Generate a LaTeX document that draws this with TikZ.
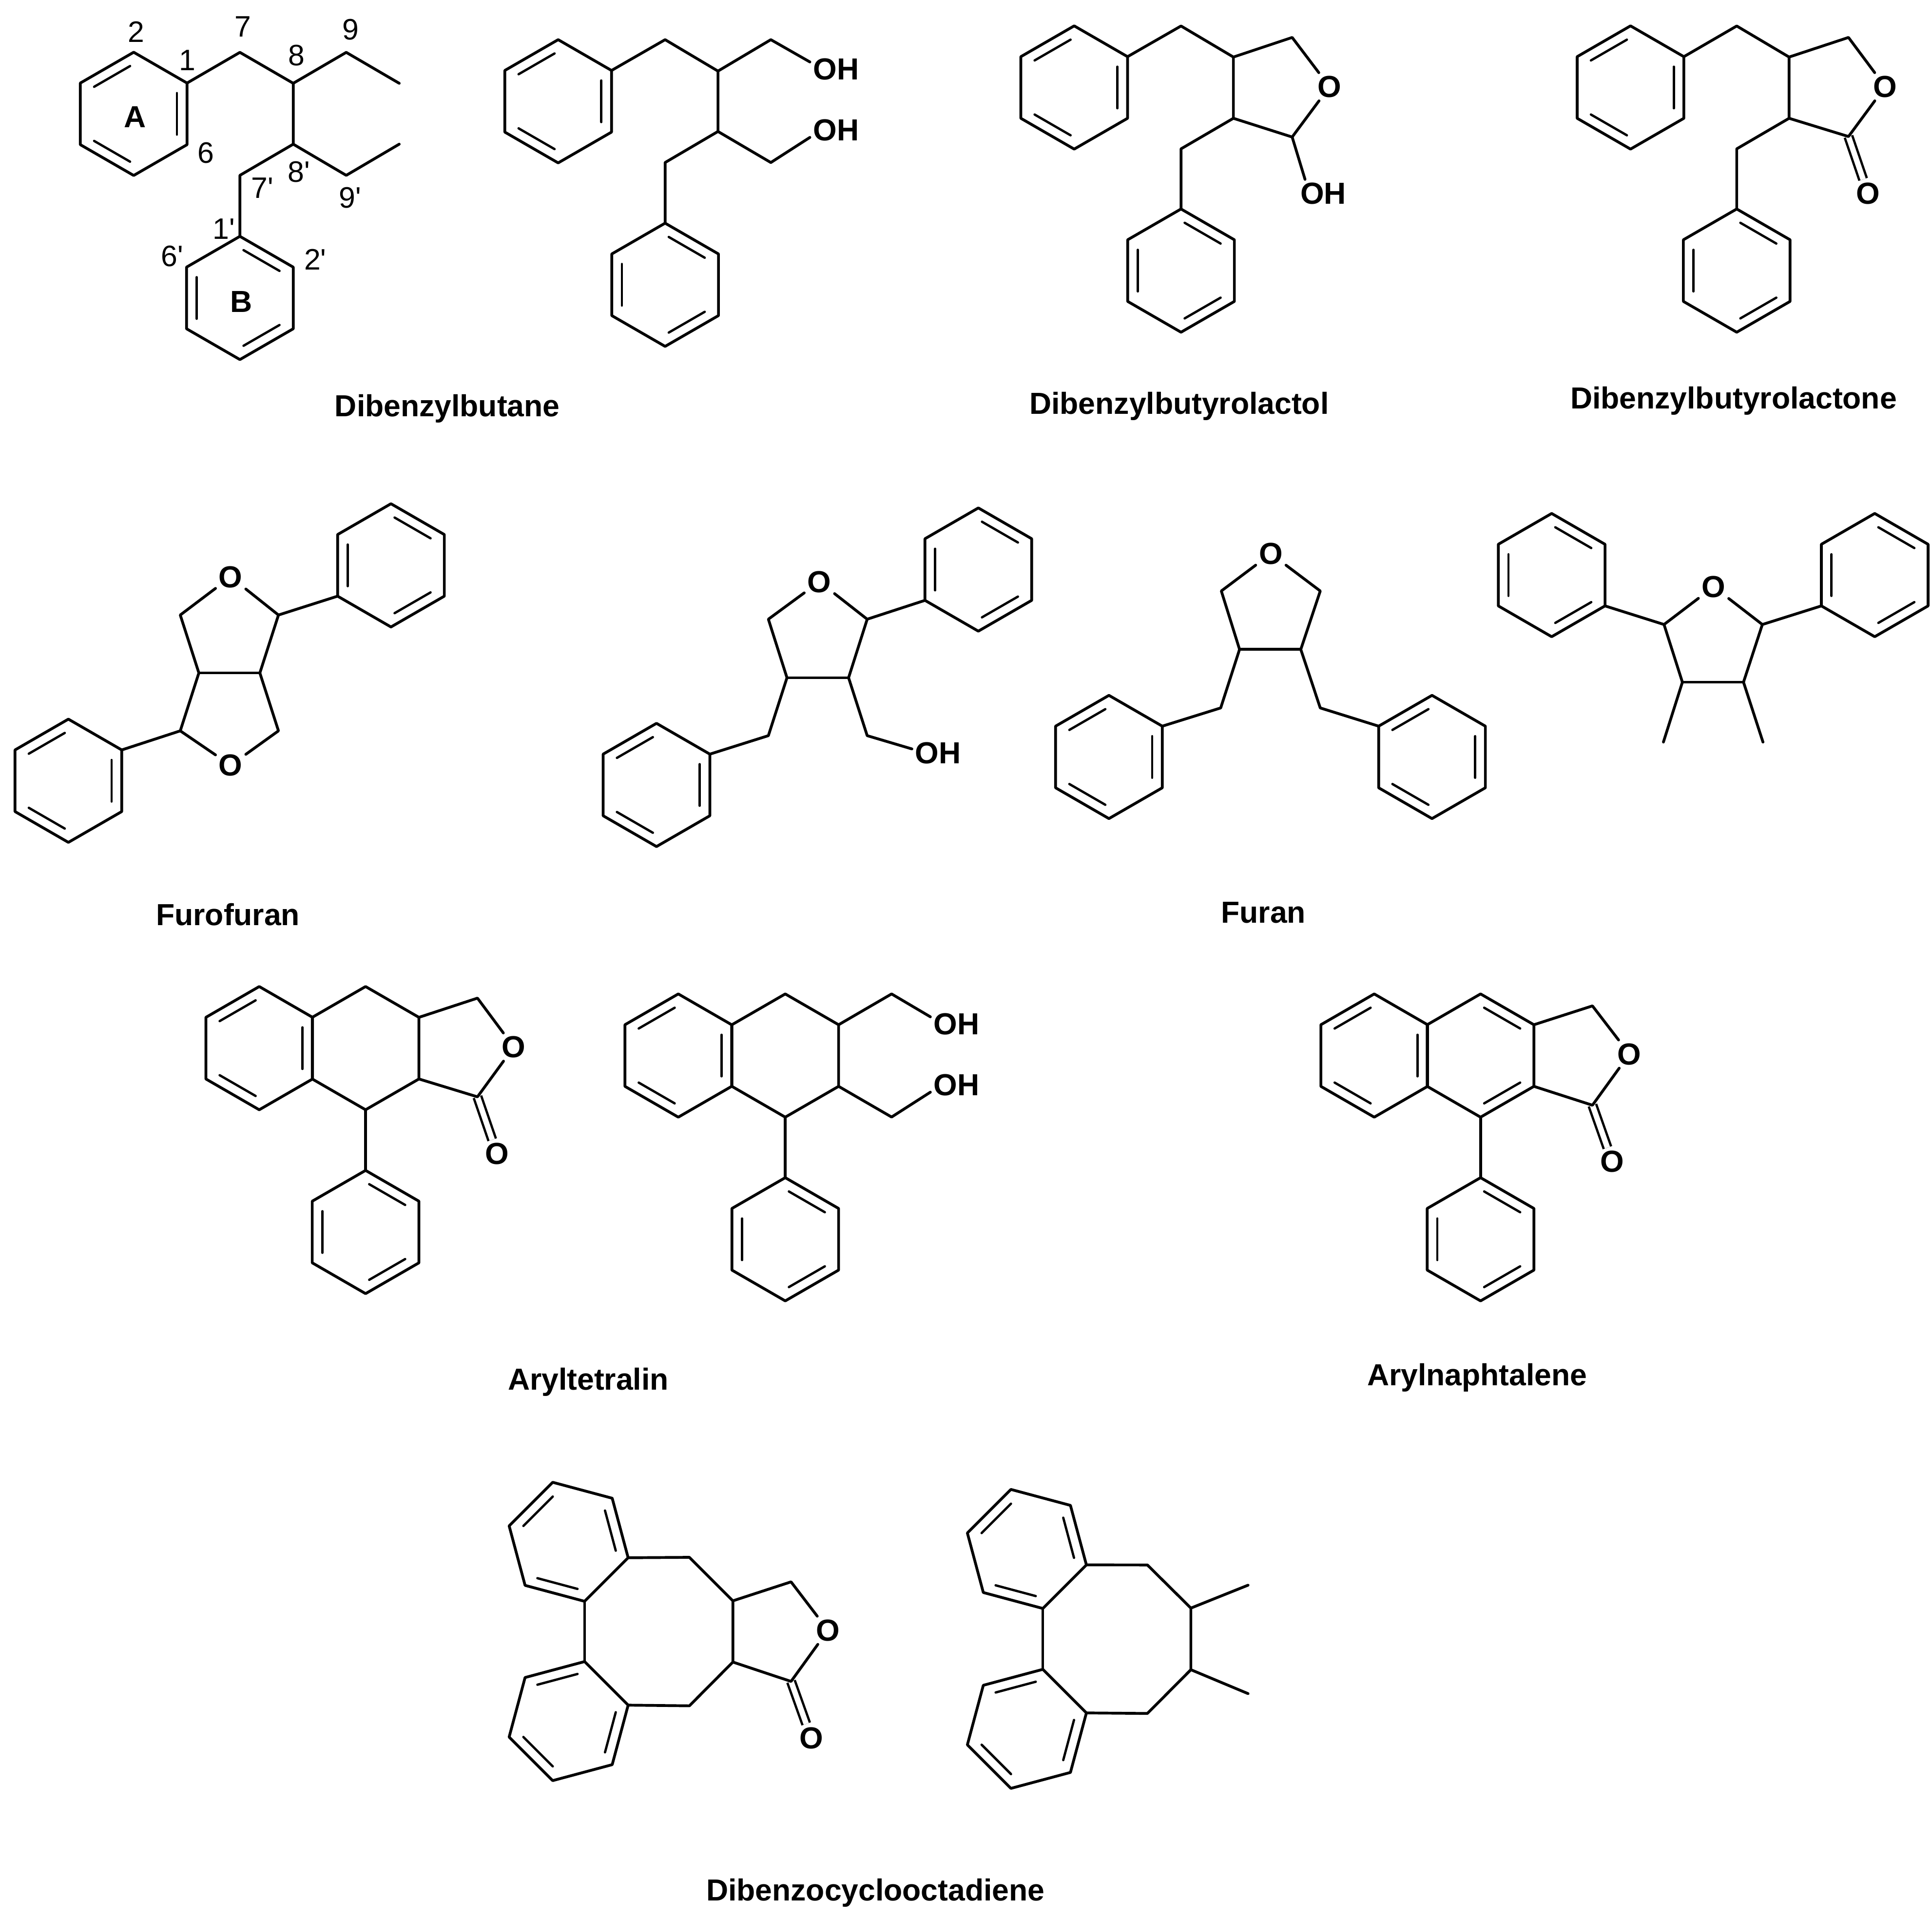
\documentclass[tikz,border=0pt]{standalone}
\usepackage{fontspec}
\setmainfont{Liberation Sans}
\newfontfamily\numfont{Liberation Sans}
\usetikzlibrary{calc}

\newcommand{\hexring}[4]{%
  \coordinate (#1) at (#2,#3);
  \foreach \i in {1,...,6}
    \coordinate (#1\i) at ($(#1)+({-90+#4+60*(\i-1)}:50)$);
  \draw [bond] (#11) -- (#12) -- (#13) -- (#14) -- (#15) -- (#16) -- cycle;
}
\newcommand{\ringdbl}[2]{%
  \foreach \i [evaluate=\i as \j using {int(mod(\i,6)+1)}] in {#2}
    \draw [inbond] ($(#1)!.81!(#1\i)$) -- ($(#1)!.81!(#1\j)$);
}
\newcommand{\benzene}[5]{\hexring{#1}{#2}{#3}{#4}\ringdbl{#1}{#5}}

\begin{document}
\begin{tikzpicture}[x=1pt,y=-1pt]
\tikzset{
  bond/.style={line width=2.25pt, line join=round, line cap=round},
  inbond/.style={line width=1.9pt, line cap=round, shorten >=3.4pt, shorten <=3.4pt},
  cobond/.style={double, double distance=4.4pt, line width=1.9pt},
  atom/.style={font=\fontsize{24.7}{28}\selectfont\bfseries, inner sep=2.5pt},
  num/.style={font=\fontsize{24}{28}\selectfont\numfont, inner sep=0pt},
  title/.style={font=\fontsize{24.7}{28}\selectfont\bfseries, inner sep=0pt, text height=24pt, text depth=6pt},
}
\useasboundingbox (0,0) rectangle (1568,1557);

% dibenzylbutane, numbered
\benzene{aA}{108.5}{92.4}{0}{2,4,6}
\benzene{aB}{194.7}{241.8}{0}{1,3,5}
\coordinate (a7) at (194.7,42.5);
\coordinate (a8) at (238,67.6);
\coordinate (a9) at (281,42.5);
\coordinate (a10) at (324,67.6);
\coordinate (a8p) at (238,117);
\coordinate (a7p) at (194.7,142.3);
\coordinate (a9p) at (281,142.3);
\coordinate (a10p) at (324,117);
\draw [bond] (aA2) -- (a7) -- (a8) -- (a9) -- (a10);
\draw [bond] (a8) -- (a8p) -- (a9p) -- (a10p);
\draw [bond] (a8p) -- (a7p) -- (aB1);
\node [num] (n2) at (110.5,26) {2};
\node [num] (n1) at (152,48.8) {1};
\node [num] (n7) at (197,21.6) {7};
\node [num] (n8) at (240.6,45) {8};
\node [num] (n9) at (284.5,24) {9};
\node [num] (n6) at (167,124) {6};
\node [num] (n7p) at (213,152.5) {7'};
\node [num] (n8p) at (242.7,139.6) {8'};
\node [num] (n9p) at (284,160.5) {9'};
\node [num] (n1p) at (181.6,185.7) {1'};
\node [num] (n6p) at (139.7,208) {6'};
\node [num] (n2p) at (255.8,210.7) {2'};
\node [atom] (lA) at (109.5,95) {A};
\node [atom] (lB) at (195.7,244.7) {B};
\node [title] (tA) at (363,329) {Dibenzylbutane};

% diol
\benzene{bA}{453}{82.2}{0}{2,4,6}
\benzene{bB}{539.8}{231.1}{0}{1,3,5}
\coordinate (b1) at (539.8,32.2);
\coordinate (b2) at (582.7,57.7);
\coordinate (b3) at (625.6,32.2);
\coordinate (b4) at (582.7,106.7);
\coordinate (b5) at (625.6,131.9);
\coordinate (b6) at (539.8,131.9);
\node [atom] (bOa) at (678.5,56) {OH};
\node [atom] (bOb) at (678.5,105.8) {OH};
\draw [bond] (bA2) -- (b1) -- (b2) -- (b3) -- ($(bOa.west)!.5!(bOa.north west)$);
\draw [bond] (b2) -- (b4) -- (b5) -- ($(bOb.west)!.5!(bOb.south west)$);
\draw [bond] (b4) -- (b6) -- (bB1);

% lactol
\benzene{cA}{871.8}{71}{0}{2,4,6}
\benzene{cB}{958.5}{219.6}{0}{1,3,5}
\coordinate (c1) at (958.5,21.1);
\coordinate (c2) at (1001,46.3);
\coordinate (c3) at (1048.7,30.4);
\coordinate (c4) at (1048.7,111.2);
\coordinate (c5) at (1001,96);
\coordinate (c6) at (958.5,120.8);
\node [atom] (cO) at (1079,70.4) {O};
\node [atom] (cOH) at (1074,157) {OH};
\draw [bond] (cA2) -- (c1) -- (c2) -- (c3) -- (cO) -- (c4) -- (c5) -- (c2);
\draw [bond] (c5) -- (c6) -- (cB1);
\draw [bond] (c4) -- ($(cOH.north west)!.15!(cOH.north east)$);
\node [title] (tC) at (957,327) {Dibenzylbutyrolactol};

% lactone
\benzene{dA}{1323.3}{71}{0}{2,4,6}
\benzene{dB}{1409.5}{219.6}{0}{1,3,5}
\coordinate (d1) at (1409.5,21.1);
\coordinate (d2) at (1452,46.3);
\coordinate (d3) at (1500.2,30.4);
\coordinate (d4) at (1500.2,110.8);
\coordinate (d5) at (1452,96);
\coordinate (d6) at (1409.5,120.8);
\node [atom] (dO) at (1530,70.4) {O};
\node [atom] (dOc) at (1516,157) {O};
\draw [cobond] (d4) -- (dOc);
\draw [bond] (dA2) -- (d1) -- (d2) -- (d3) -- (dO) -- (d4) -- (d5) -- (d2);
\draw [bond] (d5) -- (d6) -- (dB1);
\node [title] (tD) at (1407,322.5) {Dibenzylbutyrolactone};

% furofuran
\benzene{eA}{317.3}{458.8}{0}{1,3,5}
\benzene{eB}{55.5}{633.6}{0}{2,4,6}
\coordinate (e1) at (226,499.1);
\coordinate (e2) at (146.3,499.1);
\coordinate (e3) at (161.4,546.1);
\coordinate (e4) at (210.9,546.1);
\coordinate (e5) at (226,593.1);
\coordinate (e6) at (146.3,593.1);
\node [atom] (eOa) at (187.2,468.2) {O};
\node [atom] (eOb) at (187.2,621) {O};
\draw [bond] (eA5) -- (e1) -- (eOa) -- (e2) -- (e3) -- (e6) -- (eOb) -- (e5) -- (e4) -- (e1);
\draw [bond] (e6) -- (eB2);
\draw [bond] (e3) -- (e4);
\node [title] (tE) at (185,742) {Furofuran};

% second furan
\benzene{fA}{794}{462.2}{0}{1,3,5}
\benzene{fB}{532.8}{637}{0}{2,4,6}
\coordinate (f1) at (703.8,502.5);
\coordinate (f2) at (623.6,502.5);
\coordinate (f3) at (638.7,550);
\coordinate (f4) at (688.7,550);
\coordinate (f5) at (703.8,597);
\coordinate (f6) at (623.6,597);
\node [atom] (fO) at (665,472.1) {O};
\node [atom] (fOH) at (761.3,611.2) {OH};
\draw [bond] (fA5) -- (f1) -- (fO) -- (f2) -- (f3) -- (f6) -- (fB2);
\draw [bond] (f1) -- (f4) -- (f5) -- ($(fOH.west)!.3!(fOH.north west)$);
\draw [bond] (f3) -- (f4);

% furan
\benzene{gA}{900}{614.3}{0}{2,4,6}
\benzene{gB}{1162.2}{614.3}{0}{2,4,6}
\coordinate (g1) at (991.2,479.6);
\coordinate (g2) at (1071.5,479.6);
\coordinate (g3) at (1006,527);
\coordinate (g4) at (1055.7,527);
\coordinate (g5) at (990.7,574.5);
\coordinate (g6) at (1071.5,574.5);
\node [atom] (gO) at (1031.4,449.4) {O};
\draw [bond] (gA2) -- (g5) -- (g3) -- (g1) -- (gO) -- (g2) -- (g4) -- (g6) -- (gB6);
\draw [bond] (g3) -- (g4);
\node [title] (tG) at (1025.4,740) {Furan};

% diaryl furan
\benzene{hA}{1259.3}{466.7}{0}{1,3,5}
\benzene{hB}{1521.5}{466.7}{0}{1,3,5}
\coordinate (h1) at (1350.5,506.8);
\coordinate (h2) at (1430.3,506.8);
\coordinate (h3) at (1365.4,553.6);
\coordinate (h4) at (1415,553.6);
\coordinate (h5) at (1350,602.2);
\coordinate (h6) at (1430.8,602.2);
\node [atom] (hO) at (1390.7,476.2) {O};
\draw [bond] (hA3) -- (h1) -- (hO) -- (h2) -- (hB5);
\draw [bond] (h5) -- (h3) -- (h1);
\draw [bond] (h2) -- (h4) -- (h6);
\draw [bond] (h3) -- (h4);

% aryltetralin lactone
\benzene{iA}{210.4}{850.6}{0}{2,4,6}
\hexring{iC}{296.7}{850.6}{0}
\benzene{iB}{296.7}{999.8}{0}{1,3,5}
\coordinate (i1) at (387.5,810);
\coordinate (i2) at (387.5,890.1);
\node [atom] (iO) at (417,849.7) {O};
\node [atom] (iOc) at (403.4,936.4) {O};
\draw [cobond] (i2) -- (iOc);
\draw [bond] (iC2) -- (i1) -- (iO) -- (i2) -- (iC3);
\draw [bond] (iC4) -- (iB1);
\node [title] (tI) at (477.4,1119) {Aryltetralin};

% aryltetralin diol
\benzene{jA}{550.5}{856.6}{0}{2,4,6}
\hexring{jC}{637.3}{856.6}{0}
\benzene{jB}{637.3}{1005.7}{0}{1,3,5}
\coordinate (j1) at (723.6,806.6);
\coordinate (j2) at (723.6,906.5);
\node [atom] (jOa) at (776.3,830.9) {OH};
\node [atom] (jOb) at (776.3,880.6) {OH};
\draw [bond] (jC2) -- (j1) -- ($(jOa.west)!.5!(jOa.north west)$);
\draw [bond] (jC3) -- (j2) -- ($(jOb.west)!.5!(jOb.south west)$);
\draw [bond] (jC4) -- (jB1);

% arylnaphtalene
\benzene{kA}{1115.3}{856.6}{0}{2,4,6}
\benzene{kC}{1201.6}{856.6}{0}{1,3}
\benzene{kB}{1201.6}{1005.7}{0}{1,3,5}
\coordinate (k1) at (1292.4,816.3);
\coordinate (k2) at (1292.4,896.9);
\node [atom] (kO) at (1322.4,855.4) {O};
\node [atom] (kOc) at (1308.6,942.8) {O};
\draw [cobond] (k2) -- (kOc);
\draw [bond] (kC2) -- (k1) -- (kO) -- (k2) -- (kC3);
\draw [bond] (kC4) -- (kB1);
\node [title] (tK) at (1198.8,1115.3) {Arylnaphtalene};

% dibenzocyclooctadiene lactone
\benzene{lU}{461.5}{1251.2}{-15}{2,4,6}
\benzene{lD}{461.5}{1396.7}{15}{2,4,6}
\coordinate (l1) at (559.5,1263.8);
\coordinate (l2) at (594.8,1299.1);
\coordinate (l3) at (594.8,1348.8);
\coordinate (l4) at (559.5,1384.3);
\coordinate (l5) at (642,1283.7);
\coordinate (l6) at (642,1364.5);
\node [atom] (lO) at (672,1323) {O};
\node [atom] (lOc) at (658.4,1410.4) {O};
\draw [cobond] (l6) -- (lOc);
\draw [bond] (lU3) -- (l1) -- (l2) -- (l3) -- (l4) -- (lD2);
\draw [bond] (lU4) -- (lD1);
\draw [bond] (l2) -- (l5) -- (lO) -- (l6) -- (l3);
\node [title] (tL) at (710.5,1533.4) {Dibenzocyclooctadiene};

% dibenzocyclooctadiene
\benzene{mU}{833.4}{1257}{-15}{2,4,6}
\benzene{mD}{833.4}{1403}{15}{2,4,6}
\coordinate (m1) at (931.2,1270);
\coordinate (m2) at (966.5,1305);
\coordinate (m3) at (966.5,1355);
\coordinate (m4) at (931.2,1390.5);
\coordinate (m5) at (1012.9,1286.4);
\coordinate (m6) at (1012.9,1374.4);
\draw [bond] (mU3) -- (m1) -- (m2) -- (m3) -- (m4) -- (mD2);
\draw [bond] (mU4) -- (mD1);
\draw [bond] (m2) -- (m5);
\draw [bond] (m3) -- (m6);

\end{tikzpicture}
\end{document}
